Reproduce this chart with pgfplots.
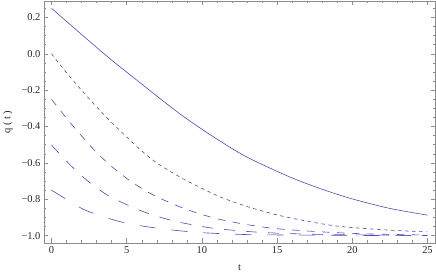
\documentclass[border=0pt]{standalone}
\usepackage{fontspec}
\setmainfont{Liberation Serif}
\usepackage{pgfplots}
\usepackage{pgfplotstable}
\pgfplotsset{compat=1.18}
\definecolor{curve}{rgb}{0.30,0.30,0.70}
\definecolor{framegray}{gray}{0.55}

\pgfplotstableread{
t q
0 0.25
2 0.106
4 -0.035
5.87 -0.158
7.35 -0.255
9 -0.358
11.08 -0.473
13 -0.568
15.7 -0.672
17.5 -0.730
19.06 -0.774
20.23 -0.803
22.5 -0.850
25 -0.887
}\qa
\pgfplotstableread{
t q
0 0
1 -0.104
2.1 -0.21
3.5 -0.336
4.65 -0.43
5.87 -0.525
7 -0.6
8.53 -0.677
10 -0.74
11.5 -0.796
13.5 -0.852
15.6 -0.897
18.8 -0.945
22 -0.967
25 -0.979
}\qb
\pgfplotstableread{
t q
0 -0.25
0.82 -0.336
1.5 -0.404
2.17 -0.468
2.83 -0.528
3.61 -0.591
4.39 -0.646
5.2 -0.697
6.02 -0.741
7.02 -0.787
8.93 -0.854
10.92 -0.905
13 -0.939
15.07 -0.962
18 -0.979
21 -0.99
25 -0.996
}\qc
\pgfplotstableread{
t q
0 -0.5
0.22 -0.522
1.33 -0.618
2.48 -0.704
3.76 -0.779
5.19 -0.836
6.58 -0.882
8.13 -0.919
9.64 -0.944
11.08 -0.962
14 -0.982
18 -0.993
25 -0.999
}\qd
\pgfplotstableread{
t q
0 -0.75
1 -0.80
2.26 -0.86
4.21 -0.915
5.98 -0.946
8.3 -0.971
10.4 -0.985
14 -0.995
25 -1.0
}\qe

\begin{document}
\begin{tikzpicture}
\begin{axis}[
  scale only axis, width=391bp, height=242bp,
  xmin=-0.5, xmax=25.5, ymin=-1.04, ymax=0.29,
  xtick={0,5,10,15,20,25},
  xticklabels={0,5,10,15,20,25},
  ytick={-1,-0.8,-0.6,-0.4,-0.2,0,0.2},
  yticklabels={−1.0,−0.8,−0.6,−0.4,−0.2,0.0,0.2},
  minor xtick={1,2,3,4,6,7,8,9,11,12,13,14,16,17,18,19,21,22,23,24},
  minor ytick={-0.95,-0.9,-0.85,-0.75,-0.7,-0.65,-0.55,-0.5,-0.45,-0.35,-0.3,-0.25,-0.15,-0.1,-0.05,0.05,0.1,0.15,0.25},
  tick align=inside,
  major tick length=4.5bp, minor tick length=2.5bp,
  axis line style={framegray, line width=0.6pt},
  every tick/.style={framegray, line width=0.5pt},
  tick label style={font=\fontsize{10.5}{12}\selectfont, text=black!85},
  label style={font=\fontsize{10.5}{12}\selectfont, text=black!85},
  xlabel={t}, ylabel={q ( t )},
  xlabel style={yshift=-4bp},
  ylabel style={yshift=2bp},
]
\addplot[curve, line width=0.6pt, smooth, no marks, solid] table[x=t,y=q] {\qa};
\addplot[curve, line width=0.6pt, smooth, no marks, dash pattern=on 3.5bp off 3.5bp] table[x=t,y=q] {\qb};
\addplot[curve, line width=0.6pt, smooth, no marks, dash pattern=on 7.5bp off 7.5bp] table[x=t,y=q] {\qc};
\addplot[curve, line width=0.6pt, smooth, no marks, dash pattern=on 11bp off 11bp] table[x=t,y=q] {\qd};
\addplot[curve, line width=0.6pt, smooth, no marks, dash pattern=on 16bp off 16bp] table[x=t,y=q] {\qe};
\end{axis}
\pgfresetboundingbox
\path ([shift={(-44bp,-36bp)}]current axis.south west) rectangle ([shift={(1bp,1bp)}]current axis.north east);
\end{tikzpicture}
\end{document}
